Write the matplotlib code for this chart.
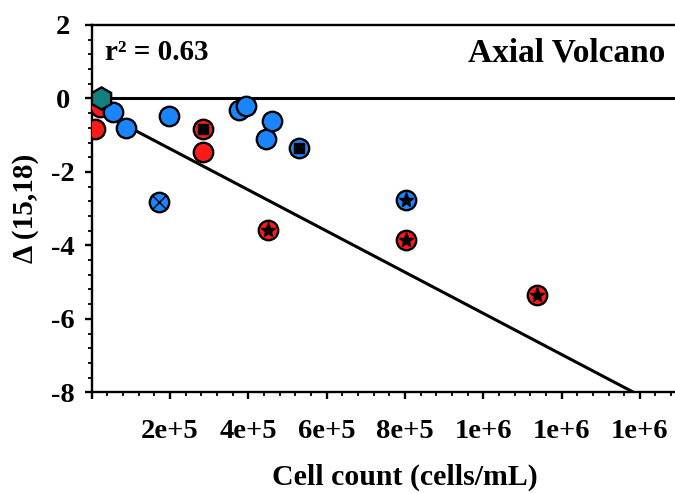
import numpy as np
import matplotlib
matplotlib.use('Agg')
import matplotlib.pyplot as plt
from matplotlib.ticker import MultipleLocator, FuncFormatter

## data: cell count (cells/mL) vs delta(15,18)
red_x = [8.4e3, 2.1e4, 2.84e5]
red_y = [-0.84, -0.22, -1.47]
blue_x = [5.4e4, 8.7e4, 1.97e5, 3.75e5, 3.93e5, 4.45e5, 4.6e5]
blue_y = [-0.36, -0.80, -0.48, -0.32, -0.20, -1.11, -0.62]
red_sq_x = [2.84e5]
red_sq_y = [-0.82]
blue_sq_x = [5.3e5]
blue_sq_y = [-1.34]
blue_cross_x = [1.72e5]
blue_cross_y = [-2.81]
red_star_x = [4.5e5, 8.04e5, 1.138e6]
red_star_y = [-3.59, -3.86, -5.36]
blue_star_x = [8.04e5]
blue_star_y = [-2.77]
hex_x = [2.4e4]
hex_y = [0.0]

# linear fit shown on the plot
fit_intercept = -0.25
fit_slope = -5.6e-6
r2 = 0.63

RED = '#ff1a1a'
BLUE = '#1a85ff'
TEAL = '#138080'

plt.rcParams['font.family'] = 'Liberation Serif'
plt.rcParams['font.weight'] = 'bold'
plt.rcParams['axes.unicode_minus'] = False

fig = plt.figure(figsize=(6.75, 4.93), dpi=100)
ax = fig.add_axes([0.1359, 0.2043, 0.928, 0.745])

ax.set_xlim(0, 1.6e6)
ax.set_ylim(-8, 2)

# zero line and regression line
ax.axhline(0, color='k', lw=2.2, zorder=2)
all_x = red_x + blue_x + red_sq_x + blue_sq_x + blue_cross_x + red_star_x + blue_star_x + hex_x
xf = np.array([min(all_x), 1.6e6])
ax.plot(xf, fit_intercept + fit_slope * xf, color='k', lw=2.2, zorder=2)

circ = dict(ls='none', marker='o', ms=14, mec='k', mew=1.7)
ax.plot(red_x, red_y, mfc=RED, zorder=3, **circ)
ax.plot(blue_x, blue_y, mfc=BLUE, zorder=3, **circ)
ax.plot(hex_x, hex_y, ls='none', marker='h', ms=16, mfc=TEAL, mec='k', mew=1.7, zorder=4)

ax.plot(red_sq_x, red_sq_y, mfc=RED, zorder=3, **circ)
ax.plot(red_sq_x, red_sq_y, 's', ms=7, color='k', zorder=4)
ax.plot(blue_sq_x, blue_sq_y, mfc=BLUE, zorder=3, **circ)
ax.plot(blue_sq_x, blue_sq_y, 's', ms=7, color='k', zorder=4)

ax.plot(blue_cross_x, blue_cross_y, mfc=BLUE, zorder=3, **circ)
ax.plot(blue_cross_x, blue_cross_y, 'x', ms=10.5, mew=1.0, color='k', zorder=4)

ax.plot(red_star_x, red_star_y, mfc=RED, zorder=3, **circ)
ax.plot(red_star_x, red_star_y, '*', ms=11, color='k', zorder=4)
ax.plot(blue_star_x, blue_star_y, mfc=BLUE, zorder=3, **circ)
ax.plot(blue_star_x, blue_star_y, '*', ms=11, color='k', zorder=4)

# axes styling
for s in ['top', 'bottom', 'left', 'right']:
    ax.spines[s].set_linewidth(1.7)

def sci_fmt(v, pos):
    if v == 0 or v > 1.5e6:
        return ''
    mant, ex = ('%.0e' % v).split('e')
    return '%se+%d' % (mant, int(ex))

ax.xaxis.set_major_locator(MultipleLocator(2e5))
ax.xaxis.set_minor_locator(MultipleLocator(4e4))
ax.xaxis.set_major_formatter(FuncFormatter(sci_fmt))
ax.yaxis.set_major_locator(MultipleLocator(2))
ax.yaxis.set_minor_locator(MultipleLocator(0.4))

ax.tick_params(which='major', direction='out', length=5, width=1.7, labelsize=20.5)
ax.tick_params(which='minor', direction='out', length=3, width=1.3)
ax.tick_params(axis='x', which='major', pad=14)
ax.tick_params(axis='y', which='major', pad=16)
for lab in ax.get_yticklabels():
    lab.set_horizontalalignment('center')

ax.set_xlabel('Cell count (cells/mL)', fontsize=21.5, fontweight='bold')
ax.set_ylabel('\u0394 (15,18)', fontsize=21, fontweight='bold')
ax.xaxis.set_label_coords(0.5, -0.195)
ax.yaxis.set_label_coords(-0.084, 0.5)

fig.text(105 / 675, 1 - 53 / 493, 'r\u00b2 = %.2f' % r2, fontsize=21, fontweight='bold', va='center')
fig.text(665 / 675, 1 - 53 / 493, 'Axial Volcano', fontsize=24, fontweight='bold', va='center', ha='right')

fig.savefig('out.png', dpi=100)
